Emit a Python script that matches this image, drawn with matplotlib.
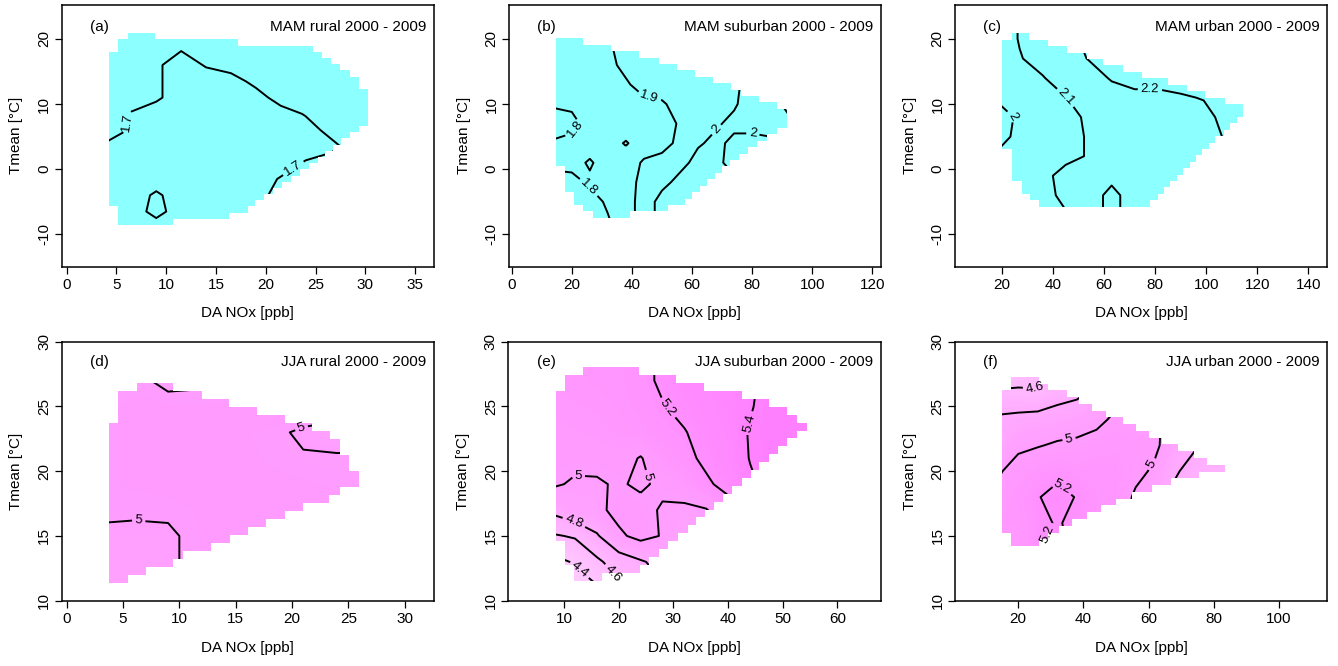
import numpy as np
import matplotlib
matplotlib.use("Agg")
import matplotlib.pyplot as plt
from matplotlib.patches import Polygon
from matplotlib.colors import LinearSegmentedColormap, Normalize

plt.rcParams['font.family'] = ['Liberation Sans', 'DejaVu Sans']
plt.rcParams['axes.unicode_minus'] = False

W, H = 1338, 666

# ---------------- data ----------------
# (a) MAM rural
a_y0, a_dy = -8.57, 0.95
a_xmin = [5.12]*3 + [4.28]*25 + [5.12]*2 + [6.13]
a_xmax = [10.7, 16.3, 18.25, 18.9, 19.8, 20.7, 21.6, 22.5, 23.4, 24.3, 25.2, 26.0, 26.8, 27.6,
          28.5, 29.4, 30.3, 30.3, 30.3, 30.3, 30.3, 30.3, 29.4, 29.4, 28.5, 27.5, 26.6, 25.6,
          24.7, 17.25, 8.87]
a_gx = [4, 6.5, 9, 11.5, 14, 16.5, 19, 21.5, 24, 26.5, 29, 31.5]
a_gy = [-9, -6.5, -4, -1.5, 1, 3.5, 6, 8.5, 11, 13.5, 16, 18.5, 21]
a_z = [
    [1.76, 1.76, 1.76, 1.76, 1.76, 1.76, 1.76, 1.64, 1.64, 1.64, 1.64, 1.64],
    [1.76, 1.76, 1.66, 1.76, 1.76, 1.76, 1.76, 1.64, 1.64, 1.64, 1.64, 1.64],
    [1.76, 1.76, 1.68, 1.76, 1.76, 1.76, 1.76, 1.64, 1.64, 1.64, 1.64, 1.64],
    [1.76, 1.76, 1.76, 1.76, 1.76, 1.76, 1.76, 1.69, 1.64, 1.64, 1.64, 1.64],
    [1.76, 1.76, 1.76, 1.76, 1.76, 1.76, 1.76, 1.76, 1.69, 1.64, 1.64, 1.64],
    [1.72, 1.76, 1.76, 1.76, 1.76, 1.76, 1.76, 1.76, 1.76, 1.74, 1.64, 1.64],
    [1.65, 1.71, 1.76, 1.76, 1.76, 1.76, 1.76, 1.76, 1.76, 1.66, 1.64, 1.64],
    [1.64, 1.71, 1.76, 1.76, 1.76, 1.76, 1.76, 1.76, 1.69, 1.64, 1.64, 1.64],
    [1.64, 1.64, 1.68, 1.76, 1.76, 1.76, 1.76, 1.64, 1.64, 1.64, 1.64, 1.64],
    [1.64, 1.64, 1.68, 1.76, 1.76, 1.76, 1.66, 1.64, 1.64, 1.64, 1.64, 1.64],
    [1.64, 1.64, 1.68, 1.76, 1.69, 1.64, 1.64, 1.64, 1.64, 1.64, 1.64, 1.64],
    [1.64, 1.64, 1.64, 1.69, 1.64, 1.64, 1.64, 1.64, 1.64, 1.64, 1.64, 1.64],
    [1.64, 1.64, 1.64, 1.64, 1.64, 1.64, 1.64, 1.64, 1.64, 1.64, 1.64, 1.64],
]
a_levels = [1.7]
a_labels = [(6.1, 7.2), (22.7, 0.3)]

# (b) MAM suburban
b_y0, b_dy = -7.45, 0.984
b_xmin = [26.9, 23.8, 20.8, 20.8] + [17.7]*4 + [14.7]*20
b_xmax = [39.4, 52, 57.7, 60, 62.5, 65, 67.5, 70, 72.5, 75.5, 78.5, 81.5, 85, 88.4, 91.5, 91.5,
          91.5, 88.4, 82.4, 76.3, 73, 67, 61, 55, 49, 42.5, 33, 23.8]
b_gx = [14, 20, 26, 32, 38, 44, 50, 56, 62, 68, 74, 80, 86, 92]
b_gy = [-8, -5, -2, 1, 4, 7, 10, 13, 16, 19, 22]
b_z = [
    [1.77, 1.77, 1.77, 1.79, 1.86, 1.94, 2.04, 2.04, 2.04, 2.04, 2.04, 2.04, 2.04, 2.04],
    [1.76, 1.76, 1.76, 1.815, 1.86, 1.94, 2.04, 2.05, 2.05, 2.04, 2.04, 2.04, 2.04, 2.04],
    [1.77, 1.77, 1.815, 1.84, 1.86, 1.93, 1.97, 2.03, 2.04, 2.03, 2.02, 2.02, 2.02, 2.02],
    [1.82, 1.83, 1.79, 1.84, 1.86, 1.91, 1.93, 1.97, 2.03, 2.02, 1.97, 1.97, 1.97, 1.97],
    [1.81, 1.83, 1.84, 1.85, 1.79, 1.86, 1.87, 1.92, 1.99, 2.02, 1.98, 1.98, 1.98, 1.98],
    [1.76, 1.77, 1.84, 1.86, 1.87, 1.87, 1.86, 1.91, 1.97, 1.99, 2.02, 2.02, 2.04, 2.07],
    [1.81, 1.82, 1.84, 1.86, 1.88, 1.88, 1.89, 1.93, 1.96, 1.97, 1.99, 2.04, 2.05, 2.13],
    [1.83, 1.84, 1.86, 1.87, 1.89, 1.93, 1.94, 1.95, 1.96, 1.97, 1.99, 2.02, 2.04, 2.06],
    [1.84, 1.85, 1.86, 1.88, 1.92, 1.94, 1.95, 1.96, 1.97, 1.98, 1.99, 1.99, 1.99, 1.99],
    [1.85, 1.86, 1.87, 1.89, 1.93, 1.95, 1.96, 1.97, 1.98, 1.98, 1.99, 1.99, 1.99, 1.99],
    [1.85, 1.86, 1.87, 1.89, 1.93, 1.95, 1.96, 1.97, 1.98, 1.98, 1.99, 1.99, 1.99, 1.99],
]
b_levels = [1.8, 1.9, 2.0, 2.1]
b_labels = [(19.9, 6.6), (26.0, -2.6), (45.5, 10.6), (67.6, 6.3), (80.0, 4.8)]

# (c) MAM urban
c_y0, c_dy = -5.76, 0.986
c_xmin = [34.6, 31.1, 27.8, 27.8] + [23.9]*5 + [20.2]*17 + [23.9]
c_xmax = [78.0, 81, 83.5, 86, 88.5, 91, 93.5, 96, 98.5, 101, 103.5, 107, 109.5, 112, 114.5, 114.5,
          107.4, 99.5, 92.4, 85.2, 74.8, 67.6, 59.8, 53.3, 45.4, 38.2, 30.7]
c_gx = [18, 27, 36, 45, 54, 63, 72, 81, 90, 99, 108, 117]
c_gy = [-7, -4, -1, 2, 5, 8, 11, 14, 17, 20, 23]
c_z = [
    [2.04, 2.06, 2.08, 2.095, 2.15, 2.23, 2.15, 2.15, 2.16, 2.16, 2.17, 2.17],
    [2.04, 2.06, 2.08, 2.115, 2.15, 2.23, 2.15, 2.15, 2.16, 2.16, 2.17, 2.17],
    [2.03, 2.05, 2.08, 2.125, 2.14, 2.17, 2.16, 2.16, 2.16, 2.16, 2.18, 2.18],
    [2.01, 2.04, 2.07, 2.08, 2.105, 2.14, 2.15, 2.16, 2.16, 2.16, 2.19, 2.19],
    [1.97, 2.02, 2.07, 2.08, 2.105, 2.14, 2.15, 2.16, 2.16, 2.16, 2.21, 2.22],
    [1.96, 2.015, 2.06, 2.08, 2.11, 2.14, 2.15, 2.16, 2.17, 2.17, 2.23, 2.24],
    [2.01, 2.04, 2.08, 2.098, 2.14, 2.15, 2.17, 2.17, 2.19, 2.205, 2.24, 2.24],
    [2.04, 2.07, 2.095, 2.14, 2.15, 2.21, 2.24, 2.24, 2.24, 2.24, 2.24, 2.24],
    [2.05, 2.095, 2.13, 2.15, 2.205, 2.24, 2.24, 2.24, 2.24, 2.24, 2.24, 2.24],
    [2.05, 2.105, 2.14, 2.16, 2.23, 2.24, 2.24, 2.24, 2.24, 2.24, 2.24, 2.24],
    [2.05, 2.105, 2.14, 2.16, 2.23, 2.24, 2.24, 2.24, 2.24, 2.24, 2.24, 2.24],
]
c_levels = [2.0, 2.1, 2.2]
c_labels = [(24.5, 8.3), (44.8, 10.9), (78.0, 12.2)]

# (d) JJA rural
d_y0, d_dy = 11.34, 0.62
d_xmin = [3.78]*20 + [4.52]*4 + [6.2]
d_xmax = [5.4, 7.0, 9.45, 10.3, 12.8, 14.5, 16.1, 17.7, 19.35, 21.0, 23.3, 24.3, 25.94, 25.94,
          25.1, 25.1, 24.3, 24.3, 23.4, 21.8, 19.35, 16.85, 14.4, 11.97, 9.45]
d_gx = [3, 6, 9, 12, 15, 18, 21, 24, 27]
d_gy = [11, 13, 15, 17, 19, 21, 23, 25, 27]
d_z = [
    [4.97, 4.97, 4.97, 5.03, 5.04, 5.04, 5.04, 5.04, 5.04],
    [4.96, 4.96, 4.98, 5.04, 5.05, 5.05, 5.05, 5.05, 5.05],
    [4.98, 4.97, 4.98, 5.04, 5.05, 5.06, 5.06, 5.06, 5.06],
    [5.02, 5.02, 5.02, 5.04, 5.05, 5.06, 5.06, 5.05, 5.05],
    [5.03, 5.04, 5.05, 5.06, 5.06, 5.05, 5.04, 5.03, 5.03],
    [5.03, 5.04, 5.05, 5.06, 5.05, 5.03, 5.01, 5.01, 5.01],
    [5.03, 5.04, 5.05, 5.05, 5.04, 5.03, 4.98, 4.96, 4.97],
    [5.03, 5.04, 5.04, 5.04, 5.04, 5.06, 5.08, 5.05, 5.05],
    [5.03, 5.03, 4.97, 4.98, 5.02, 5.04, 5.05, 5.05, 5.05],
]
d_levels = [5.0]
d_labels = [(20.9, 23.2), (6.4, 16.2)]

# (e) JJA suburban
e_y0, e_dy = 11.55, 0.61
e_xmin = [11.9]*2 + [10.18]*3 + [8.54]*19 + [10.18]*2 + [13.5]
e_xmax = [16.9, 23.9, 25.6, 27.4, 29.0, 30.8, 32.6, 34.1, 35.8, 37.4, 39.1, 40.7, 42.5, 44.1,
          45.7, 47.5, 49.2, 50.8, 52.6, 54.4, 52.6, 50.8, 47.5, 42.5, 35.5, 30.5, 23.7]
e_gx = [8, 12, 16, 20, 24, 28, 32, 36, 40, 44, 48, 52, 56]
e_gy = [11, 13, 15, 17, 19, 21, 23, 25, 27, 29]
e_z = [
    [4.25, 4.30, 4.38, 4.55, 4.68, 4.78, 4.85, 4.90, 4.95, 4.98, 5.04, 5.08, 5.10],
    [4.34, 4.42, 4.56, 4.70, 4.78, 4.86, 4.90, 4.93, 4.96, 4.98, 5.02, 5.05, 5.08],
    [4.58, 4.62, 4.78, 4.97, 5.05, 4.99, 4.93, 4.95, 4.97, 5.03, 5.08, 5.10, 5.12],
    [4.85, 4.95, 4.96, 5.05, 5.06, 4.98, 4.97, 4.99, 5.12, 5.19, 5.25, 5.30, 5.30],
    [5.02, 4.98, 4.98, 5.02, 4.97, 5.04, 5.08, 5.17, 5.26, 5.38, 5.44, 5.45, 5.45],
    [5.04, 5.04, 5.05, 5.06, 4.99, 5.10, 5.15, 5.24, 5.32, 5.405, 5.44, 5.45, 5.45],
    [5.06, 5.07, 5.08, 5.10, 5.12, 5.16, 5.19, 5.27, 5.33, 5.41, 5.45, 5.46, 5.46],
    [5.08, 5.09, 5.10, 5.12, 5.15, 5.19, 5.25, 5.30, 5.35, 5.39, 5.45, 5.46, 5.46],
    [5.10, 5.11, 5.12, 5.13, 5.15, 5.23, 5.28, 5.33, 5.37, 5.39, 5.42, 5.45, 5.45],
    [5.10, 5.11, 5.12, 5.13, 5.15, 5.23, 5.28, 5.33, 5.37, 5.39, 5.42, 5.45, 5.45],
]
e_levels = [4.4, 4.6, 4.8, 5.0, 5.2, 5.4]
e_labels = [(29.0, 24.9), (44.1, 23.7), (12.6, 19.6), (25.3, 19.6),
            (11.7, 15.9), (20.3, 12.6), (13.3, 12.6)]

# (f) JJA urban
f_y0, f_dy = 14.22, 0.523
f_xmin = [17.76]*2 + [15.1]*21 + [17.76]*2
f_xmax = [26.35, 29, 32.5, 36.5, 41, 45.5, 50, 55, 61, 67, 75.5, 83.4, 78, 74, 69, 64, 60, 56,
          52, 47, 42.5, 38.5, 34.9, 29.2, 26.35]
f_gx = [14, 20, 26, 32, 38, 44, 50, 56, 62, 68, 74, 80, 86]
f_gy = [14, 16, 18, 20, 22, 24, 26, 28]
f_z = [
    [5.05, 5.08, 5.19, 5.25, 5.15, 5.12, 5.08, 4.95, 4.92, 4.76, 4.70, 4.72, 4.72],
    [5.10, 5.10, 5.17, 5.21, 5.17, 5.13, 5.10, 4.95, 4.92, 4.76, 4.70, 4.72, 4.72],
    [5.06, 5.12, 5.19, 5.26, 5.19, 5.14, 5.12, 4.97, 4.93, 4.76, 4.72, 4.72, 4.72],
    [4.98, 5.08, 5.12, 5.15, 5.12, 5.13, 5.12, 5.05, 4.97, 4.82, 4.74, 4.72, 4.72],
    [4.88, 4.96, 4.99, 5.02, 5.03, 5.06, 5.09, 5.07, 5.03, 4.90, 4.82, 4.75, 4.72],
    [4.84, 4.86, 4.88, 4.90, 4.93, 4.96, 5.03, 4.99, 5.02, 4.95, 4.85, 4.78, 4.75],
    [4.62, 4.63, 4.62, 4.72, 4.76, 4.85, 4.95, 4.95, 4.95, 4.90, 4.79, 4.76, 4.75],
    [4.50, 4.50, 4.52, 4.58, 4.65, 4.70, 4.75, 4.78, 4.78, 4.78, 4.76, 4.75, 4.75],
]
f_levels = [4.6, 4.8, 5.0, 5.2]
f_labels = [(25.1, 26.1), (35.7, 22.3), (61.3, 20.5), (33.4, 18.8), (27.5, 15.3)]

tags = ['(a)', '(b)', '(c)', '(d)', '(e)', '(f)']
titles = ['MAM rural 2000 - 2009', 'MAM suburban 2000 - 2009', 'MAM urban 2000 - 2009',
          'JJA rural 2000 - 2009', 'JJA suburban 2000 - 2009', 'JJA urban 2000 - 2009']
xticks_list = [list(range(0, 36, 5)), list(range(0, 121, 20)), list(range(20, 141, 20)),
               list(range(0, 31, 5)), list(range(10, 61, 10)), list(range(20, 101, 20))]
yticks_top = [-10, 0, 10, 20]
yticks_bot = [10, 15, 20, 25, 30]

# ---------------- layout (pixels: left, right, top, bottom) ----------------
boxes = [(61.7, 434, 5, 266.7), (509, 880.7, 5, 266.7), (955, 1327.3, 5, 266.7),
         (61.7, 434, 341.7, 600.7), (508.3, 880.7, 341.7, 600.7), (955, 1327.3, 341.7, 600.7)]
xlims = [(-0.5, 36.9), (-0.9, 122.8), (1.7, 147.4), (-0.44, 32.6), (-0.2, 67.9), (0.6, 114.8)]
ylims = [(-14.97, 25.22)]*3 + [(10, 30)]*3

regions = [(a_y0, a_dy, a_xmin, a_xmax), (b_y0, b_dy, b_xmin, b_xmax), (c_y0, c_dy, c_xmin, c_xmax),
           (d_y0, d_dy, d_xmin, d_xmax), (e_y0, e_dy, e_xmin, e_xmax), (f_y0, f_dy, f_xmin, f_xmax)]
grids = [(a_gx, a_gy, a_z), (b_gx, b_gy, b_z), (c_gx, c_gy, c_z),
         (d_gx, d_gy, d_z), (e_gx, e_gy, e_z), (f_gx, f_gy, f_z)]
levels_all = [a_levels, b_levels, c_levels, d_levels, e_levels, f_levels]
labels_all = [a_labels, b_labels, c_labels, d_labels, e_labels, f_labels]

MAM_COLOR = '#8CFFFF'


def staircase(y0, dy, xmin, xmax):
    verts = []
    n = len(xmin)
    for i in range(n):
        verts.append((xmax[i], y0 + i * dy))
        verts.append((xmax[i], y0 + (i + 1) * dy))
    for i in reversed(range(n)):
        verts.append((xmin[i], y0 + (i + 1) * dy))
        verts.append((xmin[i], y0 + i * dy))
    return verts


cmap = LinearSegmentedColormap.from_list('cmcolors', ['#80FFFF', '#FFFFFF', '#FF80FF'])
norm = Normalize(vmin=1.65, vmax=5.45)

fig = plt.figure(figsize=(W / 100, H / 100), dpi=100)

for k in range(6):
    l, r, t, b = boxes[k]
    ax = fig.add_axes([l / W, 1 - b / H, (r - l) / W, (b - t) / H])
    ax.set_xlim(*xlims[k])
    ax.set_ylim(*ylims[k])

    y0, dy, xmn, xmx = regions[k]
    verts = staircase(y0, dy, xmn, xmx)
    gx, gy, z = grids[k]
    z = np.array(z)

    if k < 3:
        clip = Polygon(verts, closed=True, facecolor=MAM_COLOR, edgecolor='none')
        ax.add_patch(clip)
    else:
        clip = Polygon(verts, closed=True, transform=ax.transData,
                       facecolor='none', edgecolor='none')
        fl = np.linspace(z.min() - 0.01, z.max() + 0.01, 60)
        cf = ax.contourf(gx, gy, z, levels=fl, cmap=cmap, norm=norm)
        cf.set_clip_path(clip)

    cs = ax.contour(gx, gy, z, levels=levels_all[k], colors='black', linewidths=1.4)
    cs.set_clip_path(clip)
    ax.clabel(cs, manual=labels_all[k], inline=True, fmt='%g', fontsize=9.5, inline_spacing=3)

    ax.set_xticks(xticks_list[k])
    ax.set_yticks(yticks_top if k < 3 else yticks_bot)
    ax.tick_params(direction='out', length=5, width=0.9, labelsize=11, pad=3, colors='black')
    ax.tick_params(axis='y', pad=2.5)
    for lab in ax.get_yticklabels():
        lab.set_rotation(90)
        lab.set_va('center')
    for s in ax.spines.values():
        s.set_linewidth(1.1)

    ty = 0.917 if k < 3 else 0.923
    ax.text(0.076, ty, tags[k], transform=ax.transAxes, ha='left', va='center', fontsize=11)
    ax.text(0.979, ty, titles[k], transform=ax.transAxes, ha='right', va='center', fontsize=11)
    xl_y = -0.177 if k < 3 else -0.184
    ax.text(0.5, xl_y, 'DA NOx [ppb]', transform=ax.transAxes, ha='center', va='center', fontsize=11)
    ax.text(-0.122, 0.5, 'Tmean [°C]', transform=ax.transAxes, ha='center', va='center',
            rotation=90, fontsize=11)

fig.savefig('out.png', dpi=100)
